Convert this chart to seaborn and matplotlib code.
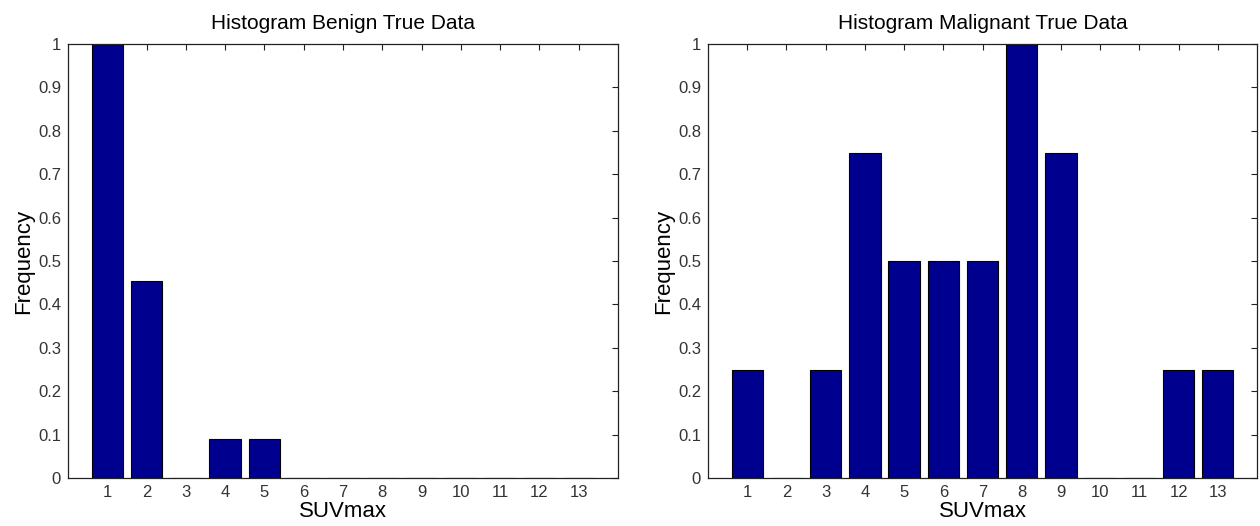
import matplotlib
matplotlib.use("Agg")
import matplotlib.pyplot as plt
import seaborn as sns
import pandas as pd

suv_bins = [1, 2, 3, 4, 5, 6, 7, 8, 9, 10, 11, 12, 13]
benign_freq = [1.0, 0.4545, 0.0, 0.0909, 0.0909, 0, 0, 0, 0, 0, 0, 0, 0]
malignant_freq = [0.25, 0.0, 0.25, 0.75, 0.5, 0.5, 0.5, 1.0, 0.75, 0.0, 0.0, 0.25, 0.25]
titles = ["Histogram Benign True Data", "Histogram Malignant True Data"]
yticks = [0, 0.1, 0.2, 0.3, 0.4, 0.5, 0.6, 0.7, 0.8, 0.9, 1]
ytick_labels = ["0", "0.1", "0.2", "0.3", "0.4", "0.5", "0.6", "0.7", "0.8", "0.9", "1"]

sns.set_style("white")
plt.rcParams['font.family'] = ['Liberation Sans', 'DejaVu Sans']

fig = plt.figure(figsize=(12.6, 5.26), dpi=100)
W, H = 1260, 526
axes = [
    fig.add_axes([68 / W, (H - 478) / H, 550 / W, 434 / H]),
    fig.add_axes([708 / W, (H - 478) / H, 549 / W, 434 / H]),
]

for ax, vals, title in zip(axes, [benign_freq, malignant_freq], titles):
    df = pd.DataFrame({"SUVmax": suv_bins, "Frequency": vals})
    sns.barplot(data=df, x="SUVmax", y="Frequency", native_scale=True,
                color="#00008F", saturation=1, width=0.8,
                edgecolor="black", linewidth=0.8, ax=ax, errorbar=None)
    ax.set_xlim(0, 14)
    ax.set_ylim(0, 1)
    ax.set_xticks(suv_bins)
    ax.set_xticklabels([str(v) for v in suv_bins])
    ax.set_yticks(yticks)
    ax.set_yticklabels(ytick_labels)
    ax.tick_params(axis="both", direction="in", length=4, width=0.8,
                   top=True, right=True, labelsize=12, colors="#222222",
                   labelcolor="#333333", pad=5)
    for s in ax.spines.values():
        s.set_visible(True)
        s.set_color("#222222")
        s.set_linewidth(0.9)
    ax.set_title(title, fontsize=15, pad=11, color="black")
    ax.set_xlabel("SUVmax", fontsize=16, labelpad=1, color="black")
    ax.set_ylabel("Frequency", fontsize=16, labelpad=3, color="black")
    ax.grid(False)

fig.savefig("out.png", dpi=100, facecolor="white")
